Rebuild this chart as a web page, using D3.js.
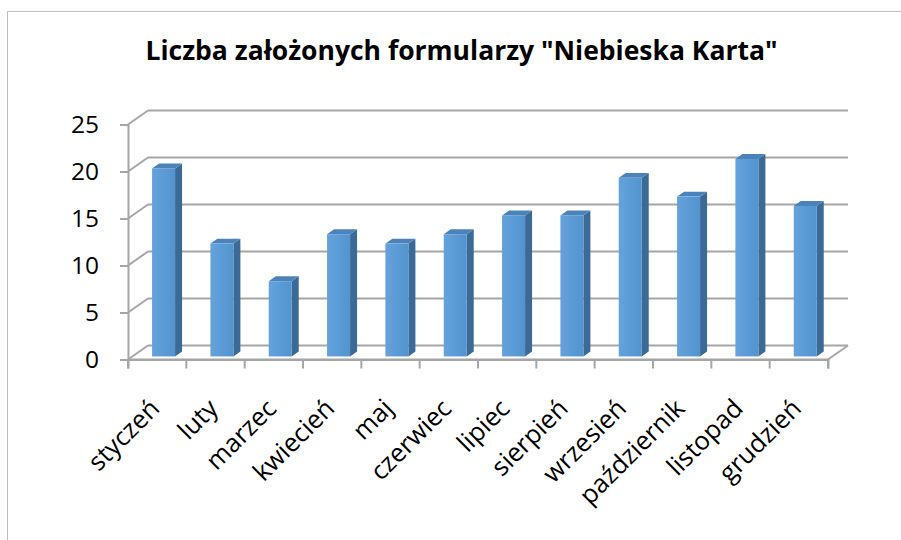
<!DOCTYPE html>
<html>
<head>
<meta charset="utf-8">
<script src="https://cdn.jsdelivr.net/npm/d3@7"></script>
<style>
  body { margin: 0; background: #fff; }
  svg { display: block; font-family: "Open Sans", "Noto Sans", sans-serif; }
</style>
</head>
<body>
<div class="chart"></div>
<script>
var months = ["styczeń", "luty", "marzec", "kwiecień", "maj", "czerwiec", "lipiec",
  "sierpień", "wrzesień", "październik", "listopad", "grudzień"];
var counts = [20, 12, 8, 13, 12, 13, 15, 15, 19, 17, 21, 16];
var yTicks = [0, 5, 10, 15, 20, 25];
var title = 'Liczba założonych formularzy "Niebieska Karta"';

var width = 901, height = 540;
var depthX = 20, depthY = -14;   // offset of back wall

var svg = d3.select(".chart").html("").append("svg")
    .attr("width", width)
    .attr("height", height);

// outer frame
svg.append("rect")
    .attr("x", 7.5).attr("y", 11.5)
    .attr("width", width).attr("height", height)
    .attr("fill", "none").attr("stroke", "#BDBDBD");

svg.append("text")
    .attr("x", 461.5).attr("y", 60)
    .attr("text-anchor", "middle")
    .attr("font-size", "26.5px").attr("font-weight", "bold")
    .text(title);

var x = d3.scaleBand().domain(months).range([128, 828]);
var y = d3.scaleLinear().domain([0, 25]).range([359.5, 124.5]);

var defs = svg.append("defs");
var grad = defs.append("linearGradient").attr("id", "front")
    .attr("x1", 0).attr("x2", 1).attr("y1", 0).attr("y2", 0);
grad.append("stop").attr("offset", 0).attr("stop-color", "#65A2DB");
grad.append("stop").attr("offset", 0.5).attr("stop-color", "#5B9BD5");
grad.append("stop").attr("offset", 1).attr("stop-color", "#5393CE");

var grid = svg.append("g").attr("stroke", "#A6A6A6").attr("stroke-width", 2).attr("fill", "none");

// back wall gridlines
grid.selectAll(".back").data(yTicks).enter().append("line")
    .attr("x1", 128 + depthX).attr("x2", 828 + depthX)
    .attr("y1", function(d) { return y(d) + depthY; })
    .attr("y2", function(d) { return y(d) + depthY; });

// left wall diagonals
grid.selectAll(".side").data(yTicks).enter().append("line")
    .attr("x1", 128).attr("x2", 128 + depthX)
    .attr("y1", function(d) { return y(d); })
    .attr("y2", function(d) { return y(d) + depthY; });

// floor front edge & right diagonal
grid.append("line").attr("x1", 128).attr("x2", 828).attr("y1", y(0)).attr("y2", y(0));
grid.append("line").attr("x1", 828).attr("x2", 828 + depthX).attr("y1", y(0)).attr("y2", y(0) + depthY);

// axes
var yAxis = svg.append("g").attr("transform", "translate(128,0)")
    .call(d3.axisLeft(y).tickValues(yTicks).tickSize(8).tickPadding(21));
var xAxis = svg.append("g").attr("transform", "translate(0," + y(0) + ")")
    .call(d3.axisBottom(x).tickSize(9).tickFormat(""));
xAxis.selectAll(".tick").remove();
xAxis.selectAll(".cat").data(months.concat(["_end"])).enter().append("line")
    .attr("x1", function(d, i) { return 128 + i * x.step(); })
    .attr("x2", function(d, i) { return 128 + i * x.step(); })
    .attr("y1", 0).attr("y2", 9);
[yAxis, xAxis].forEach(function(a) {
  a.select(".domain").attr("stroke", "#A6A6A6").attr("stroke-width", 2);
  a.selectAll("line").attr("stroke", "#A6A6A6").attr("stroke-width", 2);
});
yAxis.selectAll("text").attr("font-size", "24.5px").attr("fill", "#000")
    .attr("font-family", "Open Sans, sans-serif");

// category labels
svg.append("g").selectAll("text").data(months).enter().append("text")
    .attr("transform", function(d) {
      return "translate(" + (x(d) + x.bandwidth() / 2 + 4) + "," + 410 + ") rotate(-45)";
    })
    .attr("text-anchor", "end")
    .attr("font-size", "25.5px")
    .text(function(d) { return d; });

// bars (3D columns)
var t0 = 0.22, t1 = 0.57;
var barW = 23;
var bars = svg.append("g").selectAll("g").data(months).enter().append("g");

bars.each(function(d, i) {
  var g = d3.select(this);
  var fx = x(d) + (x.bandwidth() - barW) / 2 + depthX * t0 + 2;
  var fyBase = y(0) + depthY * t0;
  var fyTop = y(counts[i]) + depthY * t0;
  var ddx = depthX * (t1 - t0), ddy = depthY * (t1 - t0);
  // side
  g.append("path")
    .attr("d", "M" + (fx + barW) + "," + fyTop + " L" + (fx + barW + ddx) + "," + (fyTop + ddy) +
      " L" + (fx + barW + ddx) + "," + (fyBase + ddy) + " L" + (fx + barW) + "," + fyBase + "Z")
    .attr("fill", "#3B6A97");
  // top
  g.append("path")
    .attr("d", "M" + fx + "," + fyTop + " L" + (fx + ddx) + "," + (fyTop + ddy) +
      " L" + (fx + barW + ddx) + "," + (fyTop + ddy) + " L" + (fx + barW) + "," + fyTop + "Z")
    .attr("fill", "#4C82BA");
  // front
  g.append("rect")
    .attr("x", fx).attr("y", fyTop)
    .attr("width", barW).attr("height", fyBase - fyTop)
    .attr("fill", "url(#front)");
});
</script>
</body>
</html>
